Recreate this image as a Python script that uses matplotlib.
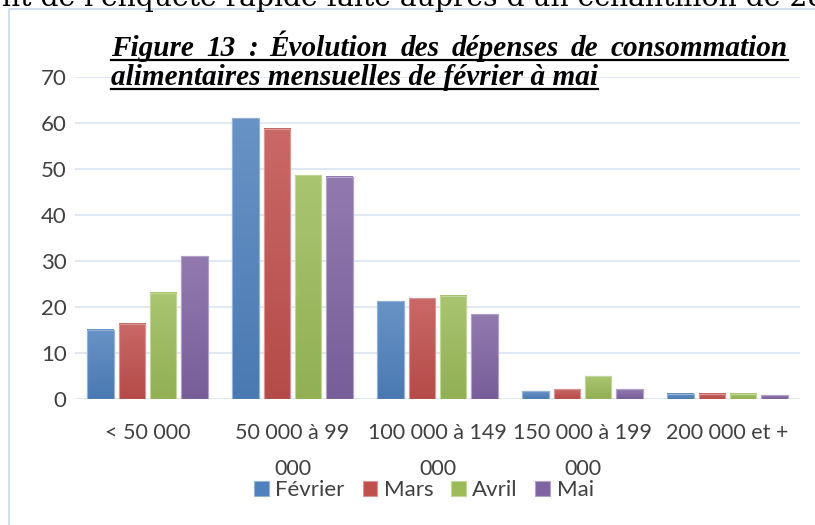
import numpy as np
import matplotlib
matplotlib.use("Agg")
import matplotlib.pyplot as plt
from matplotlib.colors import LinearSegmentedColormap, to_rgb
from matplotlib.lines import Line2D

# données
categories = ["< 50 000", "50 000 à 99\n000", "100 000 à 149\n000",
              "150 000 à 199\n000", "200 000 et +"]
mois = ["Février", "Mars", "Avril", "Mai"]
fevrier = [15.1, 61.0, 21.2, 1.7, 1.1]
mars = [16.4, 58.8, 21.9, 2.1, 1.1]
avril = [23.1, 48.6, 22.5, 4.9, 1.1]
mai = [31.0, 48.3, 18.4, 2.1, 0.8]
couleurs = ["#4F81BD", "#C0504D", "#9BBB59", "#8064A2"]
yticks = [0, 10, 20, 30, 40, 50, 60, 70]

W, H = 815, 525
plt.rcParams['font.family'] = ['Lato', 'DejaVu Sans']

fig = plt.figure(figsize=(W / 100, H / 100), dpi=100)
ax = fig.add_axes([75 / W, 1 - 399 / H, 725 / W, 322 / H])


def nuance(c, f):
    c = np.array(to_rgb(c))
    return c + (1 - c) * f if f > 0 else c * (1 + f)


series = [fevrier, mars, avril, mai]
x = np.arange(len(categories))
pas = 0.216
larg = 0.18
grad = np.linspace(0, 1, 64).reshape(-1, 1)
for i, (vals, c) in enumerate(zip(series, couleurs)):
    pos = x + (i - 1.5) * pas
    bars = ax.bar(pos, vals, width=larg, color=c, edgecolor=nuance(c, 0.4),
                  linewidth=0.8, zorder=3, label=mois[i])
    cmap = LinearSegmentedColormap.from_list("g" + str(i), [nuance(c, -0.06), nuance(c, 0.14)])
    for b in bars:
        x0, w, h = b.get_x(), b.get_width(), b.get_height()
        ax.imshow(grad, extent=[x0, x0 + w, 0, h], origin='lower', aspect='auto',
                  cmap=cmap, zorder=3.5, interpolation='bilinear')
    ax.bar(pos, vals, width=larg, facecolor='none', edgecolor=nuance(c, 0.4),
           linewidth=0.8, zorder=4)

ax.set_xlim(-0.5, 4.5)
ax.set_ylim(0, 70)
ax.set_yticks(yticks)
ax.set_xticks(x)
ax.set_xticklabels(categories, linespacing=2.0)
ax.grid(axis='y', color="#D9E4F2", linewidth=1.2, zorder=0)
ax.set_axisbelow(True)
for s in ax.spines.values():
    s.set_visible(False)
ax.tick_params(axis='both', length=0, labelsize=16, labelcolor="#404040")
ax.tick_params(axis='x', pad=17, labelsize=15.5)
ax.tick_params(axis='y', pad=6)

fig.legend(loc='center', bbox_to_anchor=(424 / W, 1 - 490 / H), ncol=4, frameon=False,
           fontsize=16, handlelength=0.65, handleheight=0.65, handletextpad=0.3,
           columnspacing=0.8, labelcolor="#404040")

# cadre du graphique
fig.add_artist(Line2D([9 / W, 9 / W, 1.0], [0, 1 - 9 / H, 1 - 9 / H],
                      transform=fig.transFigure, color="#C9D9EC", linewidth=1.2))

# texte du document coupé en haut
renderer = fig.canvas.get_renderer()
haut = fig.text(2 / W, 1 - 6 / H, "nt de l'enquête rapide faite auprès d'un échantillon de 28",
                family='DejaVu Serif', fontsize=20, va='baseline', ha='left')
wpx = haut.get_window_extent(renderer).width
haut.set_fontsize(20 * 822 / wpx)

# titre justifié et souligné
ligne1 = "Figure 13 : Évolution des dépenses de consommation".split(" ")
ligne2 = "alimentaires mensuelles de février à mai"
tstyle = dict(family='Liberation Serif', weight='bold', style='italic', va='baseline', ha='left')
t2 = fig.text(111 / W, 1 - 85 / H, ligne2, fontsize=18, **tstyle)
wpx = t2.get_window_extent(renderer).width
fs = 18 * 487 / wpx
t2.set_fontsize(fs)

mots = [fig.text(0, 1 - 56 / H, m, fontsize=fs, **tstyle) for m in ligne1]
largeurs = [m.get_window_extent(renderer).width for m in mots]
esp = (788 - 111 - sum(largeurs)) / (len(mots) - 1)
xc = 111
for m, lw in zip(mots, largeurs):
    m.set_x(xc / W)
    xc += lw + esp

fig.add_artist(Line2D([111 / W, 788 / W], [1 - 60 / H, 1 - 60 / H],
                      transform=fig.transFigure, color='black', linewidth=1.6))
fig.add_artist(Line2D([111 / W, 598 / W], [1 - 89 / H, 1 - 89 / H],
                      transform=fig.transFigure, color='black', linewidth=1.6))

fig.savefig("out.png", dpi=100)
